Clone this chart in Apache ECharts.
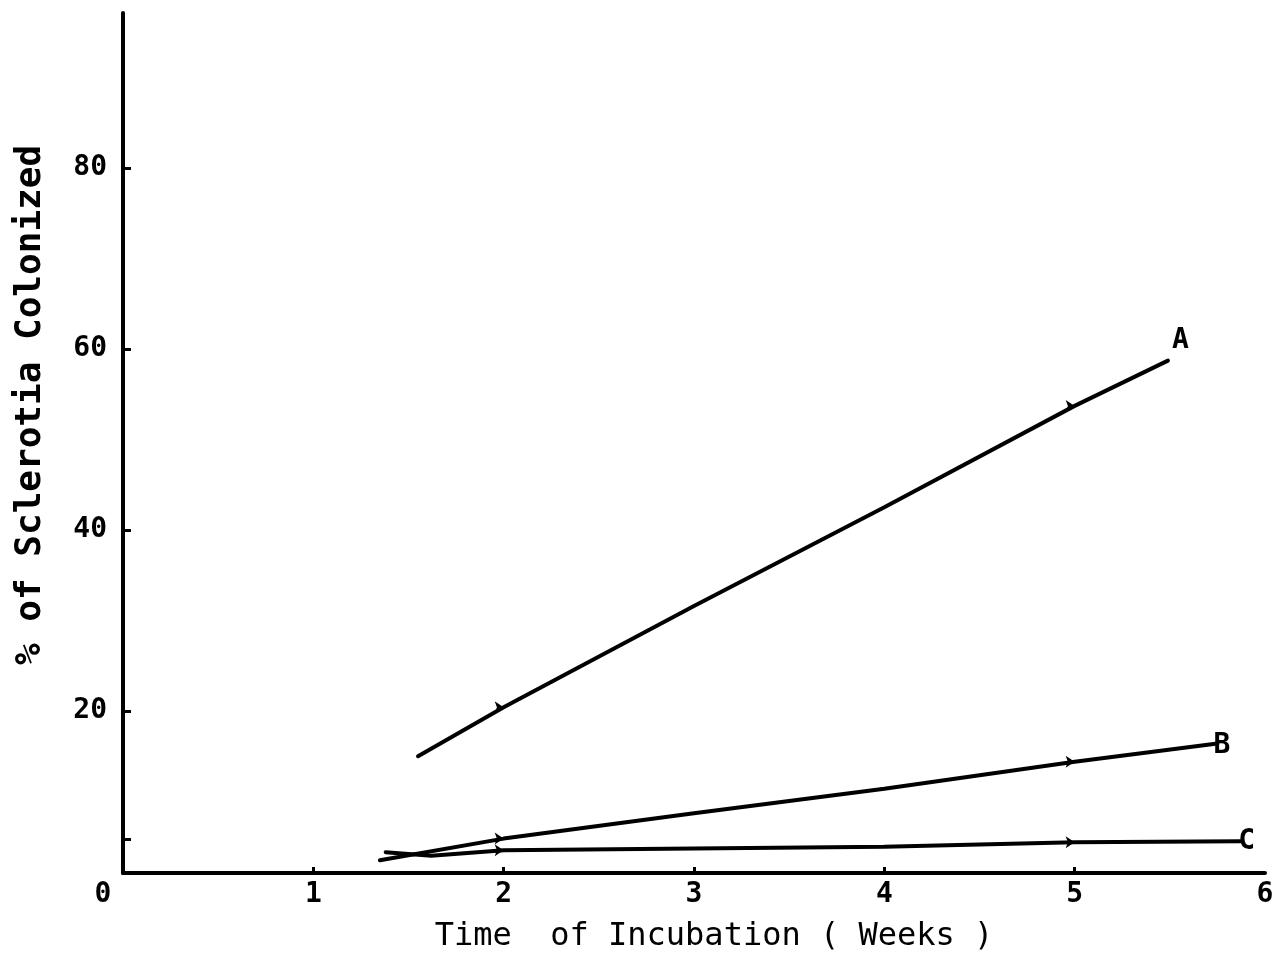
<!DOCTYPE html>
<html>
<head>
<meta charset="utf-8">
<script src="https://cdn.jsdelivr.net/npm/echarts@6/dist/echarts.min.js"></script>
<style>
html,body{margin:0;padding:0;background:#fff;}
#c{width:1277px;height:954px;}
</style>
</head>
<body>
<div id="c"></div>
<script>
// ---- data ----
const weeksA  = [1.55, 2, 3, 4, 5, 5.49];
const valuesA = [15.0, 20.4, 31.6, 42.5, 53.7, 58.7];
const weeksB  = [1.35, 2, 3, 4, 5, 5.75];
const valuesB = [3.5, 5.9, 8.7, 11.4, 14.4, 16.4];
const weeksC  = [1.38, 1.62, 2, 3, 4, 5, 5.87];
const valuesC = [4.4, 4.0, 4.6, 4.8, 5.0, 5.5, 5.6];
const markerWeeks = [2, 5];
const seriesNames = ['A', 'B', 'C'];
const yLabelValues = [20, 40, 60, 80];
const yTickValues = [5.8, 20, 40, 60, 80];
const xTickValues = [1, 2, 3, 4, 5];
const yMin = 2.1, yMax = 97.1;
const xMin = 0, xMax = 6;

const FONT = '"DejaVu Sans Mono", "Liberation Mono", monospace';

function buildData(weeks, values) {
  return weeks.map((w, i) => {
    const isMarker = markerWeeks.indexOf(w) >= 0;
    return {
      value: [w, values[i]],
      symbol: isMarker ? 'arrow' : 'none',
      symbolSize: isMarker ? 9 : 0,
      symbolRotate: -90
    };
  });
}

const labelOffsets = { A: [2, -20], B: [-6, 2], C: [-4, 0] };

const chart = echarts.init(document.getElementById('c'), null, { renderer: 'canvas' });
const sets = [[weeksA, valuesA], [weeksB, valuesB], [weeksC, valuesC]];

chart.setOption({
  backgroundColor: '#ffffff',
  animation: false,
  grid: { left: 123, right: 12, top: 13, bottom: 81, containLabel: false, outerBoundsMode: 'none' },
  xAxis: {
    type: 'value', min: xMin, max: xMax, interval: 1,
    axisLine: { show: true, onZero: false, lineStyle: { color: '#000', width: 4 } },
    axisTick: { show: true, inside: true, length: 6, customValues: xTickValues, lineStyle: { color: '#000', width: 3 } },
    splitLine: { show: false },
    axisLabel: {
      color: '#000', fontFamily: FONT, fontSize: 28, fontWeight: 'bold', margin: 8,
      formatter: v => v === 0 ? '{z|0}' : String(v),
      rich: { z: { fontFamily: FONT, fontSize: 28, fontWeight: 'bold', color: '#000', padding: [0, 40, 0, 0] } }
    },
    name: 'Time  of Incubation ( Weeks )',
    nameLocation: 'middle', nameGap: 48,
    nameTextStyle: { color: '#000', fontFamily: FONT, fontSize: 32, padding: [0, 0, 0, 40] }
  },
  yAxis: {
    type: 'value', min: yMin, max: yMax,
    axisLine: { show: true, lineStyle: { color: '#000', width: 4 } },
    axisTick: { show: true, inside: true, length: 8, customValues: yTickValues, lineStyle: { color: '#000', width: 3 } },
    splitLine: { show: false },
    axisLabel: {
      color: '#000', fontFamily: FONT, fontSize: 28, fontWeight: 'bold', margin: 16,
      customValues: yLabelValues,
      padding: [0, 0, 16, 0]
    },
    name: '% of Sclerotia Colonized',
    nameLocation: 'middle', nameRotate: 90, nameGap: 74,
    nameTextStyle: { color: '#000', fontFamily: FONT, fontSize: 36, fontWeight: 'bold', padding: [0, 0, 0, 76] }
  },
  series: sets.map((s, i) => ({
    type: 'line',
    name: seriesNames[i],
    data: buildData(s[0], s[1]),
    showSymbol: true,
    itemStyle: { color: '#000' },
    lineStyle: { color: '#000', width: 4, cap: 'round' },
    smooth: false,
    endLabel: {
      show: true, formatter: seriesNames[i], distance: 2,
      offset: labelOffsets[seriesNames[i]],
      color: '#000', fontFamily: FONT, fontSize: 28, fontWeight: 'bold'
    }
  }))
});
</script>
</body>
</html>
